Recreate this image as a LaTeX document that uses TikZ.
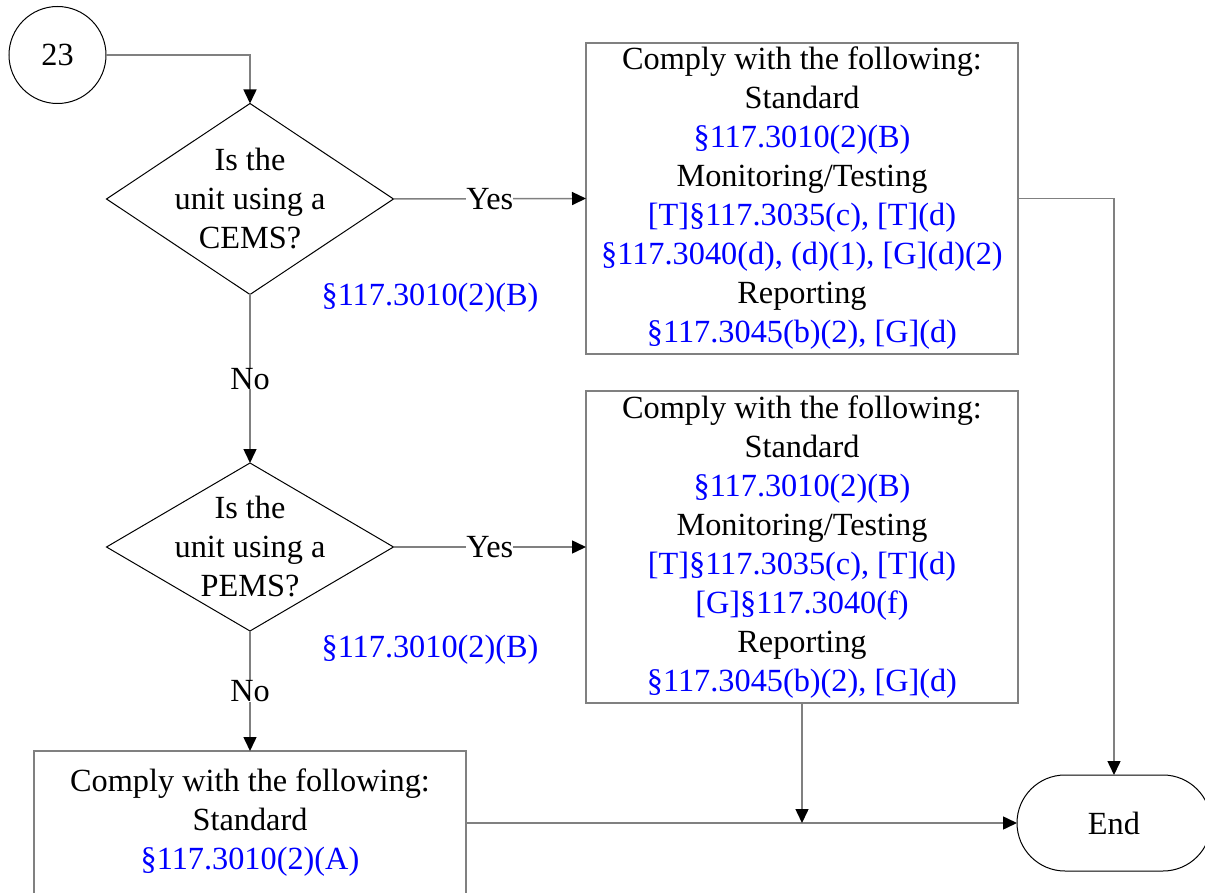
\documentclass[tikz,border=0pt]{standalone}
\usepackage{fontspec}
\setmainfont{Liberation Serif}
\usetikzlibrary{arrows.meta,shapes.geometric,shapes.misc}
\definecolor{refblue}{RGB}{0,0,255}
\definecolor{linegray}{RGB}{128,128,128}
\newcommand{\rref}[1]{\textcolor{refblue}{#1}}

\begin{document}
\begin{tikzpicture}[x=1pt, y=-1pt,
    every node/.style={font=\fontsize{32.3}{39}\selectfont, inner sep=0pt, outer sep=0pt},
    conn/.style={draw=linegray, line width=1.5pt, -{Triangle[length=14pt,width=13pt,black]}},
    decision/.style={diamond, draw, line width=1pt, minimum width=287pt},
    comply/.style={draw=linegray, line width=1.5pt, align=center, minimum width=432pt},
    answer/.style={fill=white}]
    \useasboundingbox (0,0) rectangle (1205,893);

    \node[circle, draw, line width=1pt, minimum size=97pt] (start) at (57.5,55) {23};
    \node[decision, minimum height=191pt, label={[align=center]center:Is the\\unit using a\\CEMS?}] (cems) at (250,199) {};
    \node[decision, minimum height=168pt, label={[align=center]center:Is the\\unit using a\\PEMS?}] (pems) at (250,547) {};
    \node[refblue] (cemsref) at (430,298) {§117.3010(2)(B)};
    \node[refblue] (pemsref) at (430,650) {§117.3010(2)(B)};

    \node[comply, minimum height=311pt] (cemsbox) at (802,198.5) {Comply with the following:\\Standard\\
        \rref{§117.3010(2)(B)}\\Monitoring/Testing\\\rref{[T]§117.3035(c), [T](d)}\\
        \rref{§117.3040(d), (d)(1), [G](d)(2)}\\Reporting\\\rref{§117.3045(b)(2), [G](d)}};
    \node[comply, minimum height=312pt] (pemsbox) at (802,547) {Comply with the following:\\Standard\\
        \rref{§117.3010(2)(B)}\\Monitoring/Testing\\\rref{[T]§117.3035(c), [T](d)}\\
        \rref{[G]§117.3040(f)}\\Reporting\\\rref{§117.3045(b)(2), [G](d)}};
    \node[comply, minimum height=144pt] (stdbox) at (250,823) {Comply with the following:\\Standard\\
        \rref{§117.3010(2)(A)}};
    \node[rounded rectangle, draw, line width=1pt, minimum width=194pt, minimum height=96pt] (end) at (1114,823) {End};
    \coordinate (join) at (pemsbox.south |- end.west);

    \draw[conn] (start.east) -| (cems.north);
    \draw[conn] (cems.east) -- node[answer] {Yes} (cemsbox.west);
    \draw[conn] (cems.south) -- node[answer] {No} (pems.north);
    \draw[conn] (pems.east) -- node[answer] {Yes} (pemsbox.west);
    \draw[conn] (pems.south) -- node[answer] {No} (stdbox.north);
    \draw[conn] (stdbox.east) -- (end.west);
    \draw[conn] (pemsbox.south) -- (join);
    \draw[conn] (cemsbox.east) -| (end.north);
\end{tikzpicture}
\end{document}
